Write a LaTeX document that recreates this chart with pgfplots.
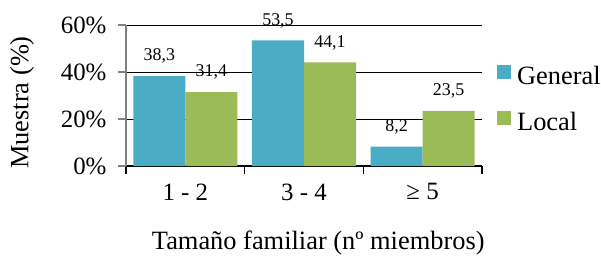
\documentclass[border=0pt]{standalone}
\usepackage{pgfplots}
\pgfplotsset{compat=1.18}
\usepackage{fontspec}
\setmainfont{Liberation Serif}
\definecolor{cblue}{HTML}{4BACC6}
\definecolor{cgreen}{HTML}{9BBB59}
\begin{document}
\begin{tikzpicture}
\useasboundingbox (-126bp,-90bp) rectangle (475bp,166bp);
\begin{axis}[
  at={(0,0)}, anchor=south west,
  scale only axis, width=356bp, height=141bp,
  ybar=0pt, bar width=52bp,
  xmin=-0.5, xmax=2.5, ymin=0, ymax=60,
  clip=false,
  xtick={-0.5,0.5,1.5,2.5}, xticklabels={},
  extra x ticks={0,1,2},
  extra x tick labels={1 - 2, 3 - 4, ≥ 5},
  extra x tick style={major tick length=0pt, grid=none, xticklabel style={yshift=-14bp}},
  ytick={0,20,40,60},
  yticklabel={\pgfmathprintnumber{\tick}\%},
  /pgf/number format/assume math mode=true,
  axis x line*=bottom, axis y line*=left,
  x axis line style={black, line width=1.2bp},
  y axis line style={gray, line width=1.2bp},
  ymajorgrids, major grid style={black, line width=1bp},
  tick align=outside, major tick length=8bp,
  xtick style={black, line width=1.2bp},
  ytick style={gray, line width=1.2bp},
  tick label style={font=\fontsize{25}{30}\selectfont},
  yticklabel style={xshift=-8bp},
  xlabel={Tamaño familiar (nº miembros)},
  xlabel style={at={(axis description cs:0.54,-0.546)}, anchor=center, font=\fontsize{26.5}{30}\selectfont},
  ylabel={Muestra (\%)},
  ylabel style={at={(axis description cs:-0.292,0.45)}, anchor=center, rotate=0, font=\fontsize{26.5}{30}\selectfont},
  nodes near coords={\pgfmathprintnumber[fixed,fixed zerofill,precision=1,use comma]{\pgfplotspointmeta}},
  every node near coord/.append style={anchor=south, yshift=9bp, font=\fontsize{18}{21}\selectfont, text=black},
  legend style={draw=none, fill=none, at={(1.042,0.715)}, anchor=north west, inner sep=0pt,
    nodes={inner sep=0pt, text height=18bp, text depth=6bp, font=\fontsize{26.5}{30}\selectfont},
    row sep=21bp, column sep=6bp},
  legend cell align=left,
  legend image code/.code={\fill[#1] (0bp,-1bp) rectangle (14bp,13bp);},
]
\addplot[fill=cblue, draw=none] coordinates {(0,38.3) (1,53.5) (2,8.2)};
\addplot[fill=cgreen, draw=none] coordinates {(0,31.4) (1,44.1) (2,23.5)};
\legend{General, Local}
\end{axis}
\end{tikzpicture}
\end{document}
